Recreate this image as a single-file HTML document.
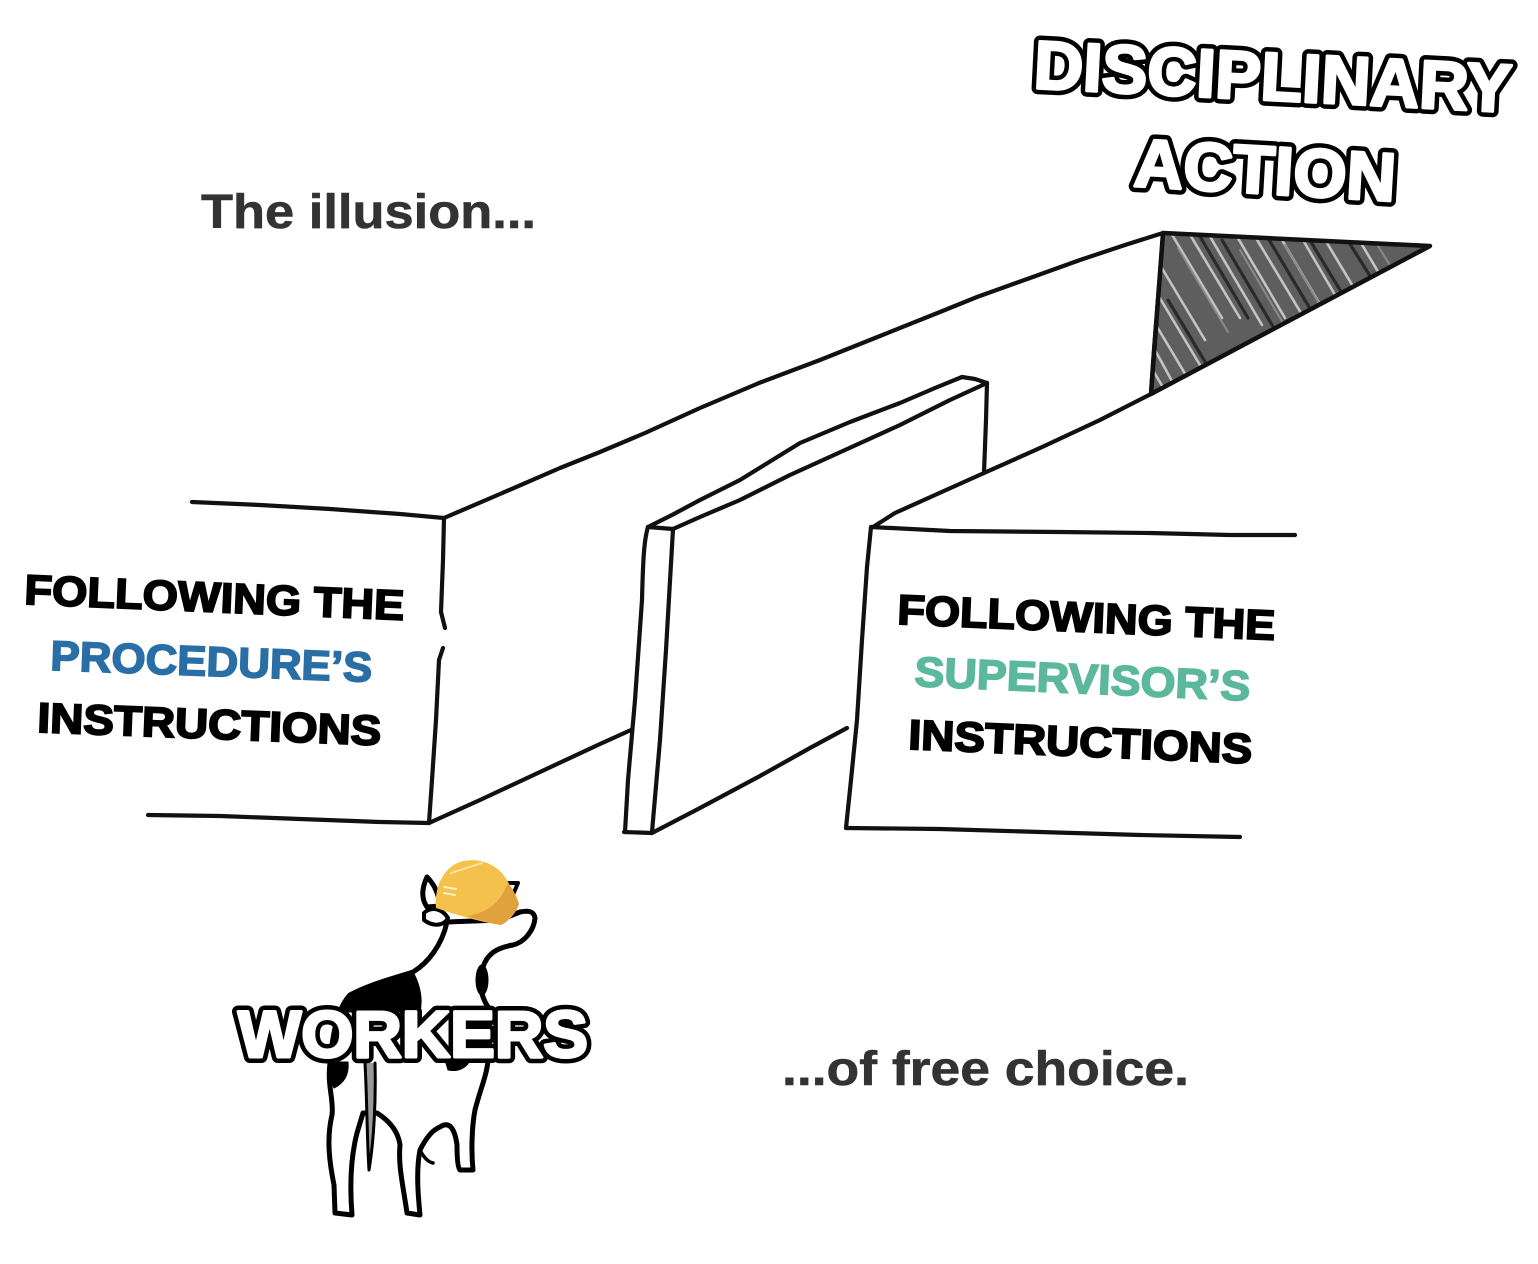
<!DOCTYPE html>
<html>
<head>
<meta charset="utf-8">
<style>
  html, body { margin: 0; padding: 0; background: #ffffff; }
  svg { display: block; }
  .ln { fill: none; stroke: #111; stroke-width: 4.2; stroke-linecap: round; stroke-linejoin: round; }
  .t  { font-family: "Liberation Sans", Arial, sans-serif; font-weight: bold; }
  .outB { fill: #000; stroke: #000; stroke-width: 12; stroke-linejoin: round; }
  .outW { fill: #fff; stroke: #fff; stroke-width: 3; stroke-linejoin: round; }
</style>
</head>
<body>
<svg width="1538" height="1264" viewBox="0 0 1538 1264" xmlns="http://www.w3.org/2000/svg">
  <rect x="0" y="0" width="1538" height="1264" fill="#ffffff"/>

  <!-- ===== Shaded triangle ===== -->
  <defs>
    <clipPath id="tri">
      <path d="M1163,233 L1430,246 L1151,394 Z"/>
    </clipPath>
  </defs>
  <path d="M1163,233 L1430,246 L1151,394 Z" fill="#5e5e5e"/>
  <g clip-path="url(#tri)" stroke-linecap="round">
    <g stroke="#c4c4c4" stroke-width="2.6">
      <line x1="1168" y1="228" x2="1222" y2="318"/>
      <line x1="1186" y1="228" x2="1240" y2="318"/>
      <line x1="1205" y1="228" x2="1262" y2="325"/>
      <line x1="1232" y1="228" x2="1285" y2="318"/>
      <line x1="1250" y1="228" x2="1304" y2="318"/>
      <line x1="1275" y1="228" x2="1328" y2="318"/>
      <line x1="1296" y1="228" x2="1345" y2="312"/>
      <line x1="1318" y1="228" x2="1366" y2="308"/>
      <line x1="1352" y1="228" x2="1395" y2="300"/>
      <line x1="1160" y1="265" x2="1205" y2="340"/>
      <line x1="1158" y1="295" x2="1200" y2="365"/>
      <line x1="1156" y1="325" x2="1190" y2="382"/>
      <line x1="1155" y1="350" x2="1178" y2="392"/>
      <line x1="1154" y1="372" x2="1168" y2="396"/>
    </g>
    <g stroke="#2a2a2a" stroke-width="3.2">
      <line x1="1195" y1="228" x2="1248" y2="318"/>
      <line x1="1222" y1="240" x2="1275" y2="330"/>
      <line x1="1262" y1="228" x2="1312" y2="312"/>
      <line x1="1305" y1="232" x2="1352" y2="310"/>
      <line x1="1168" y1="300" x2="1210" y2="370"/>
      <line x1="1340" y1="228" x2="1385" y2="300"/>
    </g>
    <g stroke="#8a8a8a" stroke-width="2">
      <line x1="1178" y1="248" x2="1228" y2="332"/>
      <line x1="1240" y1="250" x2="1290" y2="335"/>
      <line x1="1285" y1="245" x2="1330" y2="322"/>
      <line x1="1372" y1="236" x2="1410" y2="298"/>
    </g>
  </g>
  <path d="M1163,233 L1430,246 L1151,394 Z" fill="none" stroke="#111" stroke-width="4.5" stroke-linejoin="round"/>
  <path class="ln" d="M1163,233 C1160,280 1154,340 1151,394"/>

  <!-- ===== Long back wall ===== -->
  <path class="ln" d="M444,518 L500,494 L560,468 L600,452 L645,433 L700,408 L759,383 L820,360 L880,336 L940,312 L977,297 L1030,278 L1080,260 L1125,245 L1163,233"/>
  <path class="ln" d="M1151,394 L1100,420 L1040,448 L984,473 L935,495 L895,513 L873,527"/>
  <path class="ln" d="M429,823 L480,800 L540,772 L600,744 L631,730"/>

  <!-- ===== Left block ===== -->
  <path class="ln" d="M192,502 L260,505 L330,509 L400,514 L444,518"/>
  <path class="ln" d="M444,518 L443,560 L441,612 L445,628"/>
  <path class="ln" d="M443,648 L439,660 L436,720 L432,780 L429,823"/>
  <path class="ln" d="M148,815 L220,816 L300,819 L380,822 L429,823"/>

  <!-- ===== Middle thin slab ===== -->
  <path class="ln" d="M648,527 L673,529"/>
  <path class="ln" d="M648,527 C644,540 643,560 642,600 L635,700 L628,780 L625,832"/>
  <path class="ln" d="M673,529 C671,560 669,600 666,650 L660,740 L652,832"/>
  <path class="ln" d="M624,832 L652,833"/>
  <path class="ln" d="M648,527 L672,515 L700,500 L740,480 L800,443 L850,422 L900,403 L935,388 L962,377"/>
  <path class="ln" d="M673,529 L700,517 L740,500 L790,475 L845,450 L900,425 L950,400 L987,383"/>
  <path class="ln" d="M962,377 L975,379 L987,383"/>
  <path class="ln" d="M987,383 L986,420 L984,473"/>
  <path class="ln" d="M652,833 L700,808 L760,776 L810,748 L847,728"/>

  <!-- ===== Right block ===== -->
  <path class="ln" d="M871,527 L950,531 L1060,532 L1150,533 L1230,535 L1295,535"/>
  <path class="ln" d="M871,527 L867,567 L862,640 L857,720 L851,780 L846,828"/>
  <path class="ln" d="M846,828 L940,829 L1040,832 L1140,835 L1240,837"/>

  <!-- ===== Text labels on blocks ===== -->
  <g class="t" font-size="42">
    <text transform="translate(24,604) rotate(2.4)" fill="#000" stroke="#000" stroke-width="1.9" textLength="380" lengthAdjust="spacingAndGlyphs">FOLLOWING THE</text>
    <text transform="translate(50,670) rotate(2.1)" fill="#2a6ea6" stroke="#2a6ea6" stroke-width="1.6" textLength="322" lengthAdjust="spacingAndGlyphs">PROCEDURE’S</text>
    <text transform="translate(37,732) rotate(2.2)" fill="#000" stroke="#000" stroke-width="1.9" textLength="344" lengthAdjust="spacingAndGlyphs">INSTRUCTIONS</text>

    <text transform="translate(897,624) rotate(2.4)" fill="#000" stroke="#000" stroke-width="1.9" textLength="378" lengthAdjust="spacingAndGlyphs">FOLLOWING THE</text>
    <text transform="translate(914,686) rotate(2.5)" fill="#5bb89c" stroke="#5bb89c" stroke-width="1.6" textLength="336" lengthAdjust="spacingAndGlyphs">SUPERVISOR’S</text>
    <text transform="translate(908,749) rotate(2.4)" fill="#000" stroke="#000" stroke-width="1.9" textLength="344" lengthAdjust="spacingAndGlyphs">INSTRUCTIONS</text>
  </g>

  <!-- ===== Captions ===== -->
  <text class="t" x="201" y="228" font-size="48" fill="#333" stroke="#333" stroke-width="0.6" textLength="335" lengthAdjust="spacingAndGlyphs">The illusion...</text>
  <text class="t" x="782" y="1085" font-size="48" fill="#333" stroke="#333" stroke-width="0.6" textLength="407" lengthAdjust="spacingAndGlyphs">...of free choice.</text>

  <!-- ===== Disciplinary action title ===== -->
  <g class="t" font-size="68">
    <text class="outB" transform="translate(1033,88) rotate(2.9)" textLength="478" lengthAdjust="spacingAndGlyphs">DISCIPLINARY</text>
    <text class="outW" transform="translate(1033,88) rotate(2.9)" textLength="478" lengthAdjust="spacingAndGlyphs">DISCIPLINARY</text>
    <text class="outB" transform="translate(1133,186) rotate(3.3)" textLength="262" lengthAdjust="spacingAndGlyphs">ACTION</text>
    <text class="outW" transform="translate(1133,186) rotate(3.3)" textLength="262" lengthAdjust="spacingAndGlyphs">ACTION</text>
  </g>

  <!-- ===== Cow ===== -->
  <g stroke="#000" stroke-linejoin="round" stroke-linecap="round">
    <path d="M427,877 C421,890 422,900 427,907 L440,906 C439,896 435,885 427,877 Z" fill="#fff" stroke-width="5"/>
    <path d="M505,883 L518,883 L512,897 Z" fill="#fff" stroke-width="4"/>
    <path d="M424,913 C430,907 441,907 448,918 C444,926 433,927 424,920 Z" fill="#fff" stroke-width="4"/>
    <path fill="#fff" stroke-width="5" d="
      M447,922
      C442,945 428,963 413,972
      C395,978 370,984 350,995
      C336,1010 332,1040 330,1063
      C327,1085 334,1100 332,1115
      C326,1140 330,1165 334,1185
      L335,1213 L352,1215
      C350,1190 350,1160 357,1133
      L363,1113 L377,1113
      C388,1120 398,1130 400,1145
      C398,1165 403,1185 407,1213
      L420,1215
      C418,1195 416,1170 420,1150
      C425,1140 432,1130 440,1127
      C450,1120 455,1130 457,1145
      C457,1160 458,1168 460,1170
      L473,1170
      C471,1150 472,1125 475,1110
      C480,1090 487,1075 488,1060
      C490,1040 490,1020 488,1007
      C480,995 477,975 483,967
      C487,955 495,948 513,945
      C525,942 534,930 535,918
      C534,912 530,910 520,912
      L500,920 Z"/>
    <path d="M348,997 C365,985 395,978 413,972 C420,985 423,998 420,1012 L340,1012 C341,1005 344,1000 348,997 Z" fill="#000" stroke-width="1"/>
    <ellipse cx="482" cy="980" rx="6" ry="15" fill="#000" stroke-width="1"/>
    <path d="M331,1062 L348,1062 C349,1072 346,1082 334,1088 C329,1078 329,1070 331,1062 Z" fill="#000" stroke-width="1"/>
    <path d="M445,1060 L470,1060 C467,1068 458,1072 448,1070 Z" fill="#000" stroke-width="1"/>
    <path d="M365,1063 C367,1100 367,1140 369,1170 C374,1140 376,1100 375,1063" fill="#999" stroke-width="3"/>
    <path d="M420,1150 C424,1158 428,1162 433,1163" fill="none" stroke-width="3.5"/>
    <!-- hard hat -->
    <path d="M436,908 C434,890 442,868 460,862 C479,856 500,865 508,882 C513,890 517,897 519,904 C516,913 509,921 501,925 C480,922 457,915 436,908 Z" fill="#f4c24c" stroke="none"/>
    <path d="M508,882 C513,890 517,897 519,904 C516,913 509,921 501,925 C490,923 478,920 467,916 C485,913 500,905 508,882 Z" fill="#e0a23c" stroke="none"/>
    <path d="M451,873 L482,863" fill="none" stroke="#fbe29a" stroke-width="2"/>
    <path d="M444,887 L456,889 M444,893 L455,895" fill="none" stroke="#fdf0c8" stroke-width="2"/>
  </g>

  <!-- WORKERS -->
  <g class="t" font-size="66">
    <text class="outB" x="238" y="1057" textLength="350" lengthAdjust="spacingAndGlyphs">WORKERS</text>
    <text class="outW" x="238" y="1057" textLength="350" lengthAdjust="spacingAndGlyphs">WORKERS</text>
  </g>
</svg>
</body>
</html>
